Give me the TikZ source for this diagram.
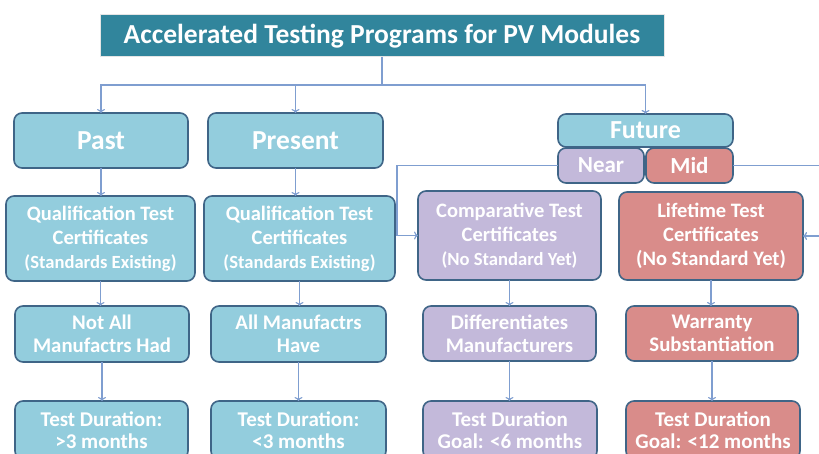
\documentclass[tikz,border=0pt]{standalone}
\usepackage{fontspec}
\setmainfont{Carlito}
\usetikzlibrary{arrows.meta}
\definecolor{titlefill}{HTML}{31859C}
\definecolor{bluefill}{HTML}{93CDDD}
\definecolor{lavfill}{HTML}{C3B9DA}
\definecolor{redfill}{HTML}{D98C8A}
\definecolor{boxborder}{HTML}{3F6587}
\definecolor{connline}{HTML}{7F9ED0}
\tikzset{
  every node/.style={inner sep=0pt, outer sep=0pt},
  box/.style={draw=boxborder, line width=1.6pt, rounded corners=8pt, align=center,
    text=white, font=\bfseries},
  bluebox/.style={box, fill=bluefill},
  lavbox/.style={box, fill=lavfill},
  redbox/.style={box, fill=redfill},
  titlebox/.style={draw=white!80!gray, line width=1pt, fill=titlefill, text=white,
    font=\fontsize{27.5}{30}\selectfont\bfseries},
  conn/.style={draw=connline, line width=1.2pt},
  arr/.style={conn, -{To[length=4pt,width=8pt]}},
  fbig/.style={font=\fontsize{27.5}{30}\selectfont\bfseries},
  fmid/.style={font=\fontsize{20.5}{24}\selectfont\bfseries},
  frow/.style={font=\fontsize{20.8}{23}\selectfont\bfseries},
  frowb/.style={font=\fontsize{21}{22}\selectfont\bfseries},
}
\newcommand{\smalltxt}[1]{{\fontsize{18.6}{24}\selectfont #1}}
\begin{document}
\begin{tikzpicture}[x=1pt,y=-1pt]
\clip (0,0) rectangle (819,454);
\fill[white] (0,0) rectangle (819,454);
% title
\node[titlebox, minimum width=564pt, minimum height=42pt] (title) at (382,36) {Accelerated Testing Programs for PV Modules};
% top row
\node[bluebox, fbig, minimum width=174pt, minimum height=55pt] (past) at (101,140.5) {Past};
\node[bluebox, fbig, minimum width=175pt, minimum height=55pt] (present) at (295.5,140.5) {Present};
\node[bluebox, font=\fontsize{26}{28}\selectfont\bfseries, minimum width=175pt, minimum height=33pt] (future) at (645.5,130.5) {Future};
\node[lavbox, font=\fontsize{23}{26}\selectfont\bfseries, minimum width=86pt, minimum height=35pt] (near) at (601,165.5) {Near};
\node[redbox, font=\fontsize{23}{26}\selectfont\bfseries, minimum width=87pt, minimum height=35pt] (mid) at (689.5,165.5) {Mid};
% second row
\node[bluebox, fmid, minimum width=189pt, minimum height=85pt] (qual1) at (100.5,238.5) {Qualification Test\\Certificates\\\smalltxt{(Standards Existing)}};
\node[bluebox, fmid, minimum width=191pt, minimum height=85pt] (qual2) at (299.5,238.5) {Qualification Test\\Certificates\\\smalltxt{(Standards Existing)}};
\node[lavbox, fmid, minimum width=183pt, minimum height=89pt] (comp) at (509.5,235.5) {Comparative Test\\Certificates\\\smalltxt{(No Standard Yet)}};
\node[redbox, fmid, minimum width=184pt, minimum height=88pt] (life) at (711,236) {Lifetime Test\\Certificates\\(No Standard Yet)};
% third row
\node[bluebox, frow, minimum width=174pt, minimum height=56pt] (r3a) at (102,334) {Not All\\Manufactrs Had};
\node[bluebox, frow, minimum width=175pt, minimum height=56pt] (r3b) at (298.5,334) {All Manufactrs\\Have};
\node[lavbox, frow, minimum width=173pt, minimum height=55pt] (r3c) at (509.5,333.5) {Differentiates\\Manufacturers};
\node[redbox, frow, minimum width=172pt, minimum height=55pt] (r3d) at (712,333.5) {Warranty\\Substantiation};
% fourth row
\node[bluebox, frowb, minimum width=173pt, minimum height=58pt] (r4a) at (101.5,430) {Test Duration:\\>3 months};
\node[bluebox, frowb, minimum width=175pt, minimum height=58pt] (r4b) at (298.5,430) {Test Duration:\\<3 months};
\node[lavbox, frowb, minimum width=174pt, minimum height=58pt] (r4c) at (510,430) {Test Duration\\Goal: <6 months};
\node[redbox, frowb, minimum width=174pt, minimum height=58pt] (r4d) at (713,430) {Test Duration\\Goal: <12 months};
% connectors from title
\coordinate (hub) at (382,85);
\draw[conn] (title.south) -- (hub);
\draw[arr] (hub) -| (past.north);
\draw[arr] (hub) -| (present.north);
\draw[arr] (hub) -| (future.north);
% near / mid
\coordinate (nb) at (397,235.5);
\draw[arr] (near.west) -| (nb) -- (comp.west);
\coordinate (mb) at (824,236);
\draw[arr] (mid.east) -| (mb) -- (life.east);
% vertical chains
\draw[arr] (past.south) -- (past.south |- qual1.north);
\draw[arr] (present.south) -- (present.south |- qual2.north);
\draw[arr] (qual1.south) -- (qual1.south |- r3a.north);
\draw[arr] (qual2.south) -- (qual2.south |- r3b.north);
\draw[arr] (comp.south) -- (comp.south |- r3c.north);
\draw[arr] (life.south) -- (life.south |- r3d.north);
\draw[arr] (r3a.south) -- (r3a.south |- r4a.north);
\draw[arr] (r3b.south) -- (r3b.south |- r4b.north);
\draw[arr] (r3c.south) -- (r3c.south |- r4c.north);
\draw[arr] (r3d.south) -- (r3d.south |- r4d.north);
\end{tikzpicture}
\end{document}
